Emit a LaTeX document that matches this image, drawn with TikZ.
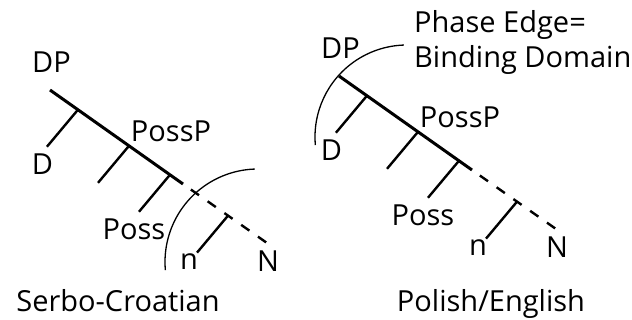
\documentclass[tikz,border=0pt]{standalone}
\usepackage{fontspec}
\setmainfont{Open Sans}
\usetikzlibrary{calc}
\begin{document}
\begin{tikzpicture}[x=1pt,y=1pt,
  lbl/.style={font=\fontsize{29}{34}\selectfont, inner sep=0pt, anchor=base},
  title/.style={lbl, anchor=base west},
  spine/.style={line width=3pt},
  branch/.style={line width=2.4pt},
  proj/.style={line width=2.4pt, dash pattern=on 10pt off 10.5pt, dash phase=10.9pt},
  edgearc/.style={line width=1.3pt}]
\useasboundingbox (0,0) rectangle (632,-320);

% two identical DP trees, the second one shifted up and right
\foreach \p/\sx/\sy in {L/0/0, R/289/14} {
  \begin{scope}[shift={(\sx,\sy)}]
    \coordinate (\p-top) at (50,-90);
    \coordinate (\p-end) at (183,-184);
    \coordinate (\p-bot) at (267,-243);
    \coordinate (\p-j1) at ($(\p-top)!0.21!(\p-end)$);
    \coordinate (\p-j2) at ($(\p-top)!0.594!(\p-end)$);
    \coordinate (\p-j3) at ($(\p-top)!0.902!(\p-end)$);
    \coordinate (\p-jn) at ($(\p-end)!0.536!(\p-bot)$);
    \coordinate (\p-e1) at ($(\p-j1)+(-31,-37)$);
    \coordinate (\p-e2) at ($(\p-j2)+(-31,-37)$);
    \coordinate (\p-e3) at ($(\p-j3)+(-31,-37)$);
    \coordinate (\p-en) at ($(\p-jn)+(-31,-37)$);

    \draw[spine] (\p-top) -- (\p-end);
    \draw[proj] (\p-end) -- (\p-bot);
    \draw[branch] (\p-j1) -- (\p-e1);
    \draw[branch] (\p-j2) -- (\p-e2);
    \draw[branch] (\p-j3) -- (\p-e3);
    \draw[branch] (\p-jn) -- (\p-en);

    \node[lbl] (\p-DP) at (51.5,-73) {DP};
    \node[lbl] (\p-D) at (42.5,-175) {D};
    \node[lbl] (\p-PossP) at (171,-142) {PossP};
    \node[lbl] (\p-Poss) at (134,-240) {Poss};
    \node[lbl] (\p-n) at (189,-270) {n};
    \node[lbl] (\p-N) at (268,-272) {N};
  \end{scope}
}

% phase edges
\draw[edgearc] (258,-262) ++(185:93) arc[start angle=185, end angle=92, radius=93];
\draw[edgearc] (407,-137) ++(185:92) arc[start angle=185, end angle=92, radius=92];

\node[title] (phase) at (414,-33) {Phase Edge=};
\node[title] (binding) at (414,-68) {Binding Domain};

\node[lbl] (sc) at (118,-312) {Serbo-Croatian};
\node[lbl] (pe) at (491,-312) {Polish/English};
\end{tikzpicture}
\end{document}
